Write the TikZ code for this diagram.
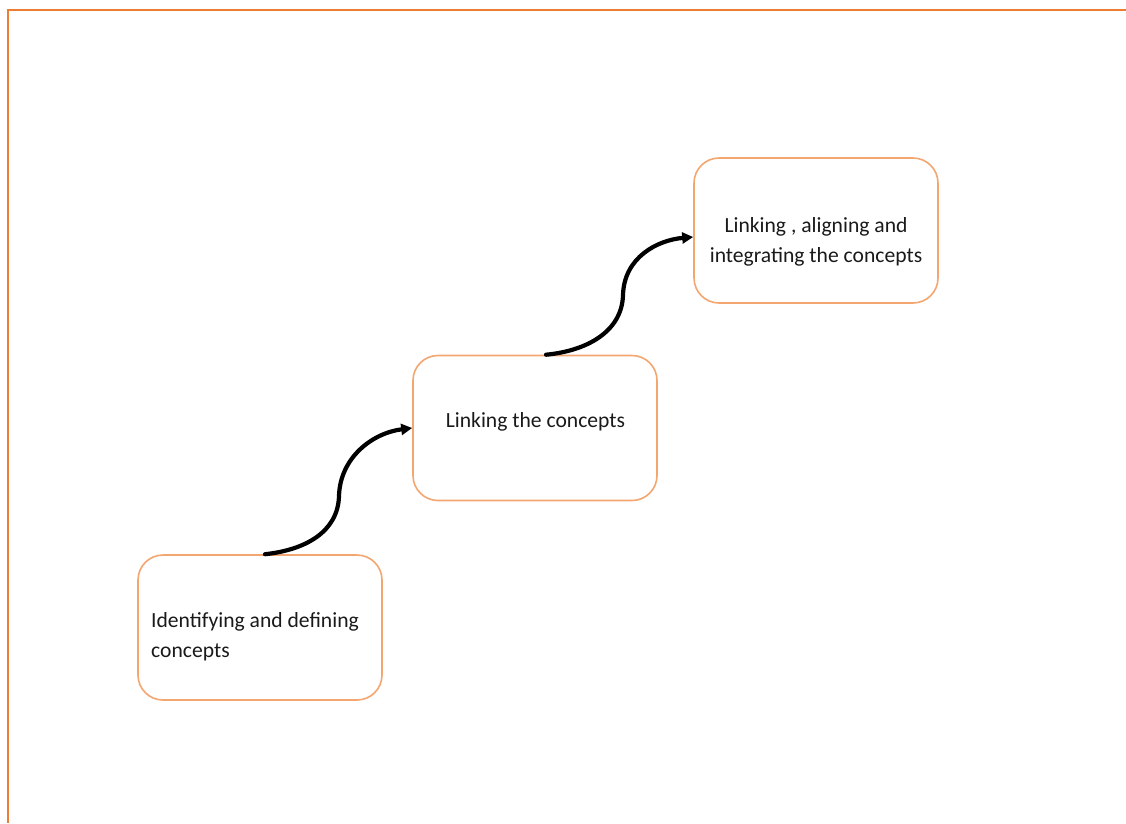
\documentclass[tikz,border=0pt]{standalone}
\usepackage{fontspec}
\setmainfont{Carlito}
\usetikzlibrary{arrows.meta}
\definecolor{boxline}{RGB}{244,166,112}
\definecolor{pageedge}{RGB}{237,125,49}
\definecolor{labeltext}{RGB}{26,26,26}
\begin{document}
\begin{tikzpicture}[x=1pt,y=-1pt,
  stagebox/.style={draw=boxline,line width=1.6pt,rounded corners=25pt,
    minimum width=244pt,minimum height=145pt,inner sep=0pt,fill=white},
  stagetext/.style={inner sep=0pt,text=labeltext,
    font=\fontsize{21.6}{30}\selectfont},
  flow/.style={line width=4.2pt,line cap=round,
    -{Triangle[length=11pt,width=11pt]}}]
\useasboundingbox (0,0) rectangle (1126,823);
% page frame edges
\coordinate (ftl) at (7.5,9.5);
\coordinate (ftr) at (1126,9.5);
\coordinate (fbl) at (7.5,823);
\draw[pageedge,line width=2pt] (fbl) -- (ftl) -- (ftr);

% the three stages
\node[stagebox] (b1) at (260,627.5) {};
\node[stagebox] (b2) at (535,428) {};
\node[stagebox] (b3) at (816,230.5) {};

\node[stagetext,anchor=west,align=left] (t1) at (151,637)
  {Identifying and defining\\concepts};
\node[stagetext,anchor=base] (t2) at (535.5,427) {Linking the concepts};
\node[stagetext,align=center] (t3) at (816,241.5)
  {Linking , aligning and\\integrating the concepts};

% curved connectors between stages
\coordinate (m1) at (339,496);
\coordinate (m2) at (623,295);
\draw[flow] ([xshift=5pt]b1.north) .. controls (305,550) and (338,532) .. (m1)
  .. controls (340,458) and (372,433) .. (b2.west);
\draw[flow] ([xshift=11pt]b2.north) .. controls (586,351) and (622,332) .. (m2)
  .. controls (624,257) and (658,240) .. ([yshift=-6.5pt]b3.west);
\end{tikzpicture}
\end{document}
